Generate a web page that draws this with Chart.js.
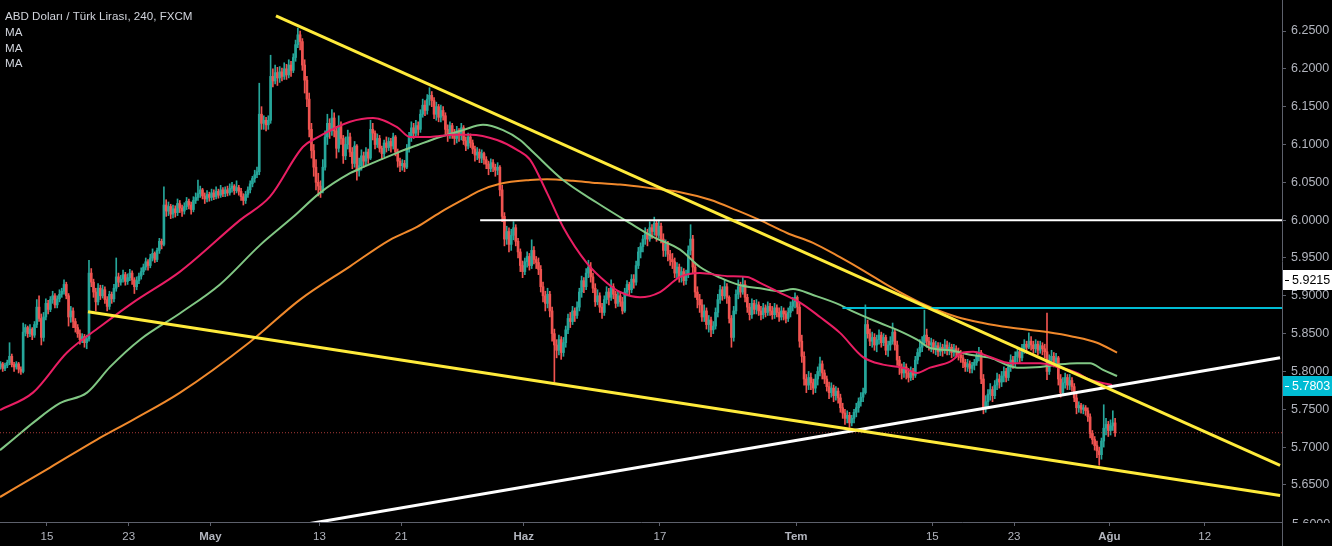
<!DOCTYPE html>
<html>
<head>
<meta charset="utf-8">
<script src="https://cdn.jsdelivr.net/npm/chart.js@4.4.0/dist/chart.umd.min.js"></script>
<style>
  html, body { margin: 0; padding: 0; background: #000; }
  canvas { display: block; }
</style>
</head>
<body>
<canvas id="usdTryChart" width="1332" height="546"></canvas>
<script>
// x unit = trading day, 0 = 15 Apr 2019 (weekends skipped, 6 x 4h candles per day)
const xTickDays = [0, 6, 12, 20, 26, 35, 45, 55, 65, 71, 78, 85];
const xTickLabels = ["15", "23", "May", "13", "21", "Haz", "17", "Tem", "15", "23", "Ağu", "12"];
const monthLabels = ["May", "Haz", "Tem", "Ağu"];
const yTicks = [5.65, 5.70, 5.75, 5.80, 5.85, 5.90, 5.95, 6.00, 6.05, 6.10, 6.15, 6.20, 6.25];

const candlesPerDay = 6;
const firstCandleDay = -3.5;   // first candle = 4th candle of 9 Apr
const firstOpen = 5.806;

// each candle: [high, low, close]; open = previous close
const aprilCandles = [
  [5.813,5.803,5.810],[5.812,5.800,5.804],[5.811,5.801,5.808],
  [5.815,5.805,5.812],[5.838,5.809,5.820],[5.823,5.806,5.809],[5.812,5.800,5.806],[5.813,5.803,5.810],[5.812,5.798,5.803],
  [5.806,5.796,5.800],[5.864,5.798,5.852],[5.862,5.847,5.858],[5.860,5.845,5.850],[5.862,5.846,5.856],[5.858,5.842,5.848],
  [5.866,5.845,5.862],[5.895,5.858,5.885],[5.900,5.866,5.870],[5.876,5.835,5.845],[5.878,5.840,5.872],[5.896,5.868,5.890],
  [5.894,5.876,5.882],[5.899,5.879,5.895],[5.906,5.890,5.900],[5.903,5.884,5.888],[5.900,5.884,5.896],[5.908,5.892,5.902],
  [5.910,5.898,5.906],[5.921,5.902,5.915],[5.918,5.896,5.900],[5.903,5.860,5.872],[5.886,5.865,5.880],[5.884,5.858,5.866],
  [5.870,5.852,5.858],[5.862,5.845,5.850],[5.855,5.836,5.842],[5.850,5.838,5.846],[5.849,5.832,5.838],[5.848,5.830,5.843],
  [5.947,5.840,5.930],[5.936,5.912,5.918],[5.922,5.898,5.905],[5.910,5.880,5.892],[5.916,5.888,5.910],[5.914,5.895,5.900],
  [5.914,5.897,5.908],[5.912,5.890,5.895],[5.899,5.880,5.886],[5.906,5.882,5.902],[5.905,5.890,5.896],[5.915,5.892,5.910],
  [5.950,5.906,5.925],[5.930,5.912,5.918],[5.927,5.914,5.922],[5.934,5.918,5.928],[5.931,5.914,5.919],[5.929,5.915,5.924],
  [5.935,5.920,5.930],[5.933,5.915,5.921],[5.924,5.903,5.912],[5.925,5.908,5.920],[5.930,5.916,5.926],[5.937,5.922,5.932],
  [5.942,5.928,5.938],[5.950,5.934,5.945],[5.948,5.934,5.940],[5.955,5.937,5.950],[5.962,5.946,5.956],[5.958,5.944,5.948],
  [5.963,5.945,5.960],[5.976,5.956,5.972],[5.975,5.962,5.968],[6.044,5.966,6.020],[6.027,6.005,6.012],[6.024,6.006,6.018],
  [6.021,6.002,6.008],[6.020,6.003,6.015],[6.019,6.004,6.010],[6.028,6.006,6.022],[6.026,6.010,6.016],[6.020,6.005,6.012],
  [6.023,6.008,6.018],[6.030,6.014,6.025],[6.028,6.015,6.020],[6.024,6.008,6.014],[6.031,6.011,6.026],[6.036,6.022,6.030],
  [6.053,6.026,6.035],[6.045,6.030,6.040],[6.042,6.028,6.032],[6.036,6.022,6.028],[6.039,6.024,6.034],[6.037,6.025,6.030]
];
const mayCandles = [
  [6.041,6.026,6.036],[6.040,6.027,6.031],[6.044,6.028,6.038],[6.041,6.029,6.033],[6.046,6.030,6.040],[6.043,6.031,6.035],
  [6.044,6.031,6.040],[6.045,6.032,6.036],[6.048,6.033,6.042],[6.050,6.037,6.045],[6.047,6.034,6.039],[6.052,6.036,6.043],
  [6.046,6.033,6.038],[6.042,6.026,6.031],[6.035,6.020,6.026],[6.038,6.022,6.034],[6.044,6.030,6.040],[6.052,6.036,6.048],
  [6.058,6.044,6.055],[6.066,6.050,6.060],[6.070,6.056,6.064],[6.181,6.060,6.140],[6.150,6.120,6.128],[6.138,6.120,6.132],
  [6.136,6.118,6.126],[6.138,6.120,6.132],[6.218,6.128,6.190],[6.200,6.176,6.184],[6.205,6.180,6.195],[6.202,6.178,6.188],
  [6.203,6.182,6.196],[6.201,6.184,6.190],[6.208,6.186,6.200],[6.206,6.186,6.192],[6.212,6.188,6.205],[6.210,6.190,6.198],
  [6.220,6.195,6.215],[6.238,6.210,6.232],[6.254,6.228,6.245],[6.250,6.225,6.236],[6.240,6.198,6.205],[6.212,6.168,6.185],
  [6.190,6.150,6.160],[6.168,6.110,6.120],[6.128,6.082,6.092],[6.100,6.058,6.070],[6.080,6.040,6.050],[6.062,6.032,6.045],
  [6.052,6.030,6.040],[6.080,6.036,6.070],[6.118,6.066,6.110],[6.140,6.100,6.128],[6.134,6.108,6.118],[6.146,6.112,6.135],
  [6.142,6.110,6.118],[6.124,6.082,6.095],[6.138,6.090,6.125],[6.130,6.100,6.108],[6.112,6.075,6.085],[6.110,6.080,6.100],
  [6.119,6.094,6.110],[6.115,6.084,6.090],[6.096,6.068,6.075],[6.104,6.070,6.098],[6.100,6.053,6.065],[6.082,6.058,6.072],
  [6.093,6.066,6.085],[6.090,6.070,6.078],[6.096,6.072,6.090],[6.094,6.075,6.082],[6.132,6.080,6.120],[6.128,6.106,6.115],
  [6.118,6.094,6.100],[6.114,6.096,6.108],[6.112,6.090,6.095],[6.098,6.080,6.088],[6.106,6.084,6.102],[6.110,6.090,6.096],
  [6.109,6.092,6.104],[6.108,6.090,6.098],[6.115,6.094,6.110],[6.112,6.085,6.090],[6.094,6.070,6.078],[6.082,6.064,6.072],
  [6.080,6.066,6.075],[6.079,6.064,6.070],[6.100,6.068,6.095],[6.116,6.090,6.110],[6.130,6.104,6.122],[6.128,6.108,6.115],
  [6.132,6.110,6.125],[6.130,6.112,6.120],[6.146,6.116,6.140],[6.160,6.136,6.152],[6.158,6.138,6.145],[6.166,6.140,6.160],
  [6.175,6.152,6.165],[6.170,6.150,6.158],[6.162,6.134,6.140],[6.156,6.132,6.150],[6.153,6.130,6.136],[6.152,6.130,6.145],
  [6.150,6.132,6.138],[6.142,6.114,6.120],[6.126,6.104,6.112],[6.130,6.108,6.125],[6.128,6.108,6.115],[6.120,6.100,6.108],
  [6.124,6.102,6.118],[6.121,6.104,6.112],[6.128,6.106,6.122],[6.125,6.100,6.105],[6.110,6.092,6.098],[6.115,6.094,6.110],
  [6.114,6.096,6.102],[6.106,6.088,6.094],[6.098,6.078,6.086],[6.096,6.080,6.090],[6.094,6.076,6.082],[6.093,6.076,6.088],
  [6.090,6.074,6.080],[6.084,6.068,6.074],[6.078,6.060,6.068],[6.081,6.064,6.076],[6.080,6.064,6.070],[6.074,6.058,6.066],
  [6.076,6.060,6.070],[6.072,6.032,6.040],[6.046,5.998,6.005],[6.010,5.966,5.975],[5.992,5.968,5.985],[5.990,5.958,5.968],
  [5.988,5.960,5.980],[5.998,5.974,5.990],[5.994,5.966,5.972],[5.976,5.950,5.958],[5.962,5.932,5.940],[5.946,5.924,5.932]
];
const juneCandles = [
  [5.950,5.928,5.945],[5.958,5.938,5.952],[5.956,5.934,5.940],[5.974,5.936,5.960],[5.965,5.942,5.948],[5.952,5.936,5.944],
  [5.950,5.928,5.935],[5.940,5.905,5.912],[5.918,5.892,5.900],[5.906,5.880,5.890],[5.910,5.884,5.902],[5.906,5.872,5.880],
  [5.885,5.840,5.850],[5.856,5.786,5.835],[5.842,5.818,5.828],[5.848,5.822,5.842],[5.846,5.816,5.825],[5.845,5.820,5.838],
  [5.860,5.832,5.855],[5.876,5.850,5.870],[5.878,5.858,5.866],[5.886,5.862,5.880],[5.884,5.866,5.874],[5.892,5.870,5.885],
  [5.910,5.880,5.905],[5.926,5.898,5.920],[5.924,5.904,5.912],[5.936,5.908,5.930],[5.947,5.924,5.938],[5.944,5.918,5.925],
  [5.930,5.904,5.910],[5.916,5.886,5.892],[5.908,5.888,5.900],[5.904,5.878,5.885],[5.890,5.870,5.878],[5.900,5.874,5.895],
  [5.912,5.890,5.905],[5.910,5.888,5.898],[5.921,5.894,5.912],[5.916,5.896,5.902],[5.906,5.884,5.890],[5.906,5.886,5.900],
  [5.904,5.886,5.892],[5.898,5.876,5.880],[5.910,5.878,5.905],[5.920,5.900,5.915],[5.918,5.900,5.908],[5.928,5.904,5.922],
  [5.928,5.910,5.918],[5.946,5.914,5.940],[5.964,5.936,5.958],[5.970,5.950,5.965],[5.980,5.958,5.975],[5.990,5.968,5.982],
  [5.988,5.966,5.975],[5.998,5.972,5.990],[5.994,5.976,5.985],[6.004,5.980,5.996],[5.999,5.972,5.980],[6.000,5.976,5.992],
  [5.996,5.970,5.975],[5.982,5.952,5.960],[5.974,5.952,5.968],[5.972,5.946,5.955],[5.960,5.940,5.948],[5.956,5.936,5.945],
  [5.950,5.924,5.930],[5.944,5.924,5.938],[5.942,5.918,5.925],[5.938,5.918,5.932],[5.936,5.914,5.920],[5.934,5.915,5.928],
  [5.966,5.924,5.960],[5.994,5.954,5.975],[5.980,5.930,5.938],[5.944,5.898,5.905],[5.912,5.884,5.895],[5.902,5.878,5.888],
  [5.895,5.866,5.872],[5.888,5.866,5.880],[5.884,5.856,5.862],[5.874,5.852,5.868],[5.872,5.846,5.855],[5.866,5.850,5.860],
  [5.884,5.856,5.878],[5.902,5.872,5.895],[5.914,5.890,5.908],[5.912,5.894,5.900],[5.921,5.896,5.912],[5.916,5.890,5.898],
  [5.900,5.864,5.870],[5.874,5.832,5.845],[5.886,5.840,5.880],[5.908,5.876,5.902],[5.921,5.896,5.912],[5.918,5.898,5.905],
  [5.925,5.902,5.915],[5.920,5.892,5.898],[5.902,5.878,5.885],[5.890,5.868,5.875],[5.896,5.870,5.890],[5.894,5.876,5.882],
  [5.895,5.876,5.888],[5.892,5.874,5.880],[5.886,5.868,5.875],[5.890,5.870,5.884],[5.888,5.872,5.878],[5.892,5.874,5.886],
  [5.890,5.874,5.880],[5.886,5.869,5.875],[5.890,5.870,5.884],[5.888,5.872,5.878],[5.884,5.866,5.872],[5.886,5.868,5.880],
  [5.884,5.868,5.876],[5.880,5.864,5.870],[5.884,5.866,5.878],[5.892,5.872,5.886],[5.898,5.880,5.892],[5.904,5.884,5.898]
];
const julyCandles = [
  [5.900,5.876,5.885],[5.890,5.832,5.840],[5.848,5.812,5.820],[5.826,5.782,5.790],[5.796,5.772,5.782],[5.800,5.776,5.792],
  [5.798,5.776,5.785],[5.790,5.770,5.778],[5.796,5.772,5.790],[5.806,5.782,5.800],[5.819,5.794,5.810],[5.814,5.790,5.798],
  [5.802,5.784,5.790],[5.794,5.774,5.780],[5.786,5.764,5.772],[5.785,5.766,5.778],[5.782,5.760,5.768],[5.780,5.762,5.774],
  [5.778,5.758,5.765],[5.770,5.746,5.752],[5.758,5.738,5.745],[5.750,5.730,5.738],[5.748,5.732,5.742],[5.746,5.726,5.732],
  [5.742,5.728,5.738],[5.750,5.732,5.746],[5.758,5.740,5.752],[5.765,5.746,5.760],[5.772,5.754,5.766],[5.778,5.760,5.772],
  [5.888,5.770,5.862],[5.868,5.844,5.850],[5.856,5.834,5.840],[5.852,5.832,5.845],[5.850,5.828,5.835],[5.848,5.826,5.842],
  [5.855,5.836,5.848],[5.852,5.832,5.838],[5.850,5.834,5.845],[5.848,5.822,5.828],[5.840,5.820,5.835],[5.846,5.828,5.840],
  [5.864,5.836,5.852],[5.856,5.828,5.835],[5.840,5.808,5.815],[5.820,5.796,5.805],[5.810,5.790,5.798],[5.812,5.792,5.806],
  [5.810,5.790,5.798],[5.804,5.786,5.792],[5.806,5.788,5.800],[5.804,5.789,5.795],[5.820,5.792,5.815],[5.830,5.810,5.825],
  [5.842,5.820,5.832],[5.846,5.826,5.838],[5.881,5.834,5.848],[5.856,5.832,5.840],[5.845,5.828,5.835],[5.844,5.826,5.838],
  [5.842,5.824,5.830],[5.840,5.822,5.834],[5.838,5.820,5.826],[5.838,5.821,5.832],[5.836,5.820,5.828],[5.842,5.824,5.835],
  [5.840,5.822,5.828],[5.838,5.822,5.832],[5.836,5.818,5.825],[5.836,5.820,5.830],[5.834,5.819,5.826],[5.831,5.815,5.822],
  [5.828,5.812,5.818],[5.822,5.805,5.812],[5.816,5.800,5.806],[5.816,5.800,5.810],[5.814,5.798,5.804],[5.812,5.798,5.808],
  [5.816,5.802,5.812],[5.826,5.808,5.820],[5.832,5.814,5.825],[5.828,5.784,5.790],[5.796,5.744,5.752],[5.768,5.746,5.760],
  [5.776,5.752,5.770],[5.784,5.762,5.776],[5.780,5.760,5.768],[5.788,5.764,5.782],[5.798,5.776,5.790],[5.796,5.778,5.786],
  [5.800,5.780,5.794],[5.806,5.786,5.800],[5.804,5.786,5.792],[5.812,5.788,5.806],[5.822,5.800,5.815],[5.820,5.804,5.812],
  [5.826,5.806,5.820],[5.832,5.812,5.826],[5.830,5.812,5.818],[5.836,5.814,5.830],[5.842,5.824,5.836],[5.840,5.824,5.832],
  [5.851,5.830,5.840],[5.846,5.828,5.835],[5.840,5.824,5.830],[5.842,5.825,5.836],[5.840,5.822,5.828],[5.840,5.824,5.834],
  [5.838,5.822,5.830],[5.836,5.818,5.826],[5.877,5.789,5.800],[5.822,5.796,5.815],[5.828,5.808,5.820],[5.825,5.806,5.812],
  [5.824,5.806,5.818],[5.820,5.782,5.790],[5.796,5.766,5.772],[5.792,5.770,5.785],[5.798,5.778,5.792],[5.796,5.776,5.782],
  [5.796,5.776,5.788],[5.792,5.774,5.780],[5.784,5.760,5.765],[5.770,5.744,5.752],[5.760,5.746,5.755],[5.758,5.745,5.750],
  [5.756,5.744,5.752],[5.755,5.742,5.748],[5.752,5.734,5.740],[5.744,5.712,5.718],[5.722,5.704,5.710],[5.714,5.696,5.702],
  [5.708,5.686,5.695],[5.700,5.676,5.690],[5.712,5.684,5.708],[5.756,5.700,5.725],[5.738,5.716,5.730],[5.734,5.714,5.722]
];
const augustCandles = [
  [5.736,5.716,5.728],[5.748,5.722,5.732],[5.738,5.714,5.719]
];

// moving averages: [day, price]
const maRed = [
  [-3.45,5.749],[-1.03,5.772],[1.47,5.825],[3.89,5.859],[6.31,5.891],[9.77,5.932],[14.17,6.000],[16.37,6.031],
  [18.80,6.097],[19.82,6.109],[22.25,6.130],[23.94,6.135],[25.70,6.123],[26.65,6.110],[28.12,6.110],[29.81,6.113],
  [31.06,6.113],[33.04,6.106],[34.51,6.093],[35.46,6.080],[36.71,6.036],[37.89,5.991],[39.65,5.943],[41.12,5.917],
  [42.07,5.905],[43.54,5.898],[45.01,5.905],[46.48,5.925],[47.94,5.930],[49.93,5.926],[51.40,5.925],[52.35,5.917],
  [53.82,5.904],[55.29,5.891],[56.75,5.872],[58.22,5.851],[59.91,5.819],[61.38,5.809],[62.85,5.805],[63.88,5.798],
  [64.83,5.805],[66.30,5.813],[67.25,5.825],[67.99,5.826],[69.24,5.819],[70.70,5.811],[72.91,5.811],[74.16,5.806],
  [75.62,5.798],[76.58,5.789],[78.19,5.782]
];
const maGreen = [
  [-3.45,5.696],[-2.50,5.710],[-1.03,5.732],[0.95,5.758],[2.94,5.772],[4.63,5.806],[6.83,5.842],[9.77,5.877],
  [12.70,5.915],[15.64,5.967],[18.06,6.004],[20.04,6.036],[22.25,6.062],[23.20,6.070],[25.70,6.089],[27.17,6.099],
  [28.85,6.110],[30.54,6.119],[32.01,6.126],[33.48,6.119],[34.73,6.106],[35.68,6.090],[37.89,6.053],[40.38,6.023],
  [42.80,5.996],[44.49,5.978],[46.48,5.961],[47.94,5.938],[49.41,5.924],[50.88,5.914],[52.35,5.910],[53.82,5.906],
  [54.77,5.909],[56.24,5.901],[58.22,5.888],[58.96,5.881],[61.16,5.864],[62.41,5.855],[63.88,5.842],[64.83,5.831],
  [66.30,5.828],[67.77,5.822],[69.24,5.818],[71.22,5.805],[72.91,5.806],[74.16,5.809],[75.62,5.811],[76.58,5.811],
  [77.53,5.802],[78.56,5.794]
];
const maOrange = [
  [-3.45,5.634],[0.22,5.673],[3.67,5.710],[6.31,5.736],[9.77,5.772],[14.90,5.839],[18.58,5.895],[22.25,5.939],
  [25.18,5.974],[27.17,5.991],[28.85,6.010],[30.54,6.027],[31.79,6.039],[33.26,6.048],[35.46,6.053],[36.71,6.054],
  [38.62,6.052],[40.38,6.049],[42.07,6.047],[44.05,6.043],[46.48,6.037],[48.68,6.027],[50.66,6.013],[52.35,6.000],
  [54.33,5.983],[56.24,5.970],[58.22,5.951],[60.06,5.932],[61.89,5.912],[64.10,5.891],[66.81,5.872],[68.72,5.864],
  [70.70,5.858],[73.42,5.852],[75.33,5.846],[77.09,5.838],[78.56,5.825]
];

// drawn trend lines: [day, price] end points
const upperTrend = [[16.81, 6.270], [90.53, 5.676]];
const lowerTrend = [[3.01, 5.879], [90.53, 5.636]];
const risingSupport = [[18.0, 5.595], [90.53, 5.818]];
const resistance600 = [[31.8, 6.000], [90.67, 6.000]];
const level588 = [[58.4, 5.884], [90.67, 5.884]];
const lastPrice = 5.719;
const priceTags = [
  { value: 5.9215, text: "5.9215", bg: "#ffffff", fg: "#000000" },
  { value: 5.7803, text: "5.7803", bg: "#00bcd4", fg: "#ffffff" }
];

const xMin = -3.45, xMax = 90.67;
const yMin = 5.601, yMax = 6.291;

const UP = "#26a69a";
const DOWN = "#ef5350";
const FONT = "'Liberation Sans', Arial, sans-serif";

// build candle pieces
const candles = [...aprilCandles, ...mayCandles, ...juneCandles, ...julyCandles, ...augustCandles];
const wickData = [];
const bodyData = [];
const isUp = [];
let open = firstOpen;
candles.forEach(([h, l, c], i) => {
  const x = firstCandleDay + (i + 0.5) / candlesPerDay;
  wickData.push({ x: x, y: [Math.min(l, open, c), Math.max(h, open, c)] });
  bodyData.push({ x: x, y: [open, c] });
  isUp.push(c >= open);
  open = c;
});

const toXY = arr => arr.map(p => ({ x: p[0], y: p[1] }));
const candleColor = ctx => (isUp[ctx.dataIndex] ? UP : DOWN);

function lineSet(points, color, width, order, extra) {
  return Object.assign({
    type: "line",
    data: toXY(points),
    borderColor: color,
    borderWidth: width,
    pointRadius: 0,
    fill: false,
    order: order
  }, extra || {});
}

const overlayPlugin = {
  id: "overlay",
  afterDraw(chart) {
    const ctx = chart.ctx;
    const area = chart.chartArea;
    const y = chart.scales.y;
    ctx.save();

    // price scale line down to the bottom
    ctx.strokeStyle = "#5d606b";
    ctx.lineWidth = 1;
    ctx.beginPath();
    ctx.moveTo(area.right + 0.5, area.bottom);
    ctx.lineTo(area.right + 0.5, chart.height);
    ctx.stroke();

    // half hidden 5.6000 label
    ctx.save();
    ctx.beginPath();
    ctx.rect(area.right + 1, 0, chart.width - area.right, area.bottom + 1);
    ctx.clip();
    ctx.fillStyle = "#b2b5be";
    ctx.font = "12.5px " + FONT;
    ctx.textBaseline = "middle";
    ctx.textAlign = "left";
    ctx.fillText("5.6000", area.right + 10, y.getPixelForValue(5.6) + 2);
    ctx.restore();

    // price tags
    priceTags.forEach(t => {
      const py = Math.round(y.getPixelForValue(t.value));
      ctx.fillStyle = t.bg;
      ctx.fillRect(area.right + 1, py - 10, chart.width - area.right, 20);
      ctx.fillStyle = t.fg;
      ctx.fillRect(area.right + 3, py, 4, 1);
      ctx.font = "12.5px " + FONT;
      ctx.textBaseline = "middle";
      ctx.textAlign = "left";
      ctx.fillText(t.text, area.right + 10, py + 1);
    });

    // legend text
    ctx.fillStyle = "#d1d4dc";
    ctx.textAlign = "left";
    ctx.textBaseline = "alphabetic";
    ctx.font = "11.6px " + FONT;
    ctx.fillText("ABD Doları / Türk Lirası, 240, FXCM", 5, 20);
    ["MA", "MA", "MA"].forEach((s, i) => ctx.fillText(s, 5, 36 + i * 15.5));
    ctx.restore();
  }
};

new Chart(document.getElementById("usdTryChart"), {
  type: "bar",
  data: {
    datasets: [
      lineSet(upperTrend, "#ffeb3b", 3, 0),
      lineSet(lowerTrend, "#ffeb3b", 3, 0),
      lineSet(risingSupport, "#ffffff", 3, 0),
      lineSet(resistance600, "#ffffff", 2, 0),
      lineSet(level588, "#00bcd4", 2, 0),
      lineSet([[xMin, lastPrice], [xMax, lastPrice]], "rgba(239,83,80,0.7)", 1, 1, { borderDash: [1, 2] }),
      lineSet(maRed, "#e91e63", 2, 1, { cubicInterpolationMode: "monotone" }),
      lineSet(maGreen, "#81c784", 2, 1, { cubicInterpolationMode: "monotone" }),
      lineSet(maOrange, "#f0892c", 2, 1, { cubicInterpolationMode: "monotone" }),
      {
        type: "bar",
        data: bodyData,
        backgroundColor: candleColor,
        barThickness: 2,
        minBarLength: 1,
        grouped: false,
        borderWidth: 0,
        order: 2
      },
      {
        type: "bar",
        data: wickData,
        backgroundColor: candleColor,
        barThickness: 1,
        grouped: false,
        borderWidth: 0,
        order: 3
      }
    ]
  },
  options: {
    responsive: false,
    animation: false,
    devicePixelRatio: 1,
    layout: { padding: 0 },
    plugins: {
      legend: { display: false },
      tooltip: { enabled: false },
      title: { display: false }
    },
    scales: {
      x: {
        type: "linear",
        min: xMin,
        max: xMax,
        offset: false,
        grid: { display: true, offset: false, drawOnChartArea: false, drawTicks: true, tickLength: 4, color: "#5d606b" },
        border: { display: true, color: "#5d606b" },
        ticks: {
          font: ctx => ({ family: FONT, size: 11.5, weight: monthLabels.includes(xTickLabels[ctx.index]) ? "bold" : "normal" }),
          color: "#b2b5be",
          padding: 4,
          maxRotation: 0,
          autoSkip: false,
          callback: (v, i) => xTickLabels[i]
        },
        afterBuildTicks: s => { s.ticks = xTickDays.map(d => ({ value: d })); },
        afterFit: s => { s.height = 24; s.paddingLeft = 0; s.paddingRight = 0; }
      },
      y: {
        type: "linear",
        position: "right",
        min: yMin,
        max: yMax,
        grid: { display: true, drawOnChartArea: false, drawTicks: true, tickLength: 4, color: "#5d606b" },
        border: { display: true, color: "#5d606b" },
        ticks: {
          font: { family: FONT, size: 12.5 },
          color: "#b2b5be",
          padding: 5,
          callback: v => v.toFixed(4)
        },
        afterBuildTicks: s => { s.ticks = yTicks.map(v => ({ value: v })); },
        afterFit: s => { s.width = 50; s.paddingTop = 0; s.paddingBottom = 0; }
      }
    }
  },
  plugins: [overlayPlugin]
});
</script>
</body>
</html>
